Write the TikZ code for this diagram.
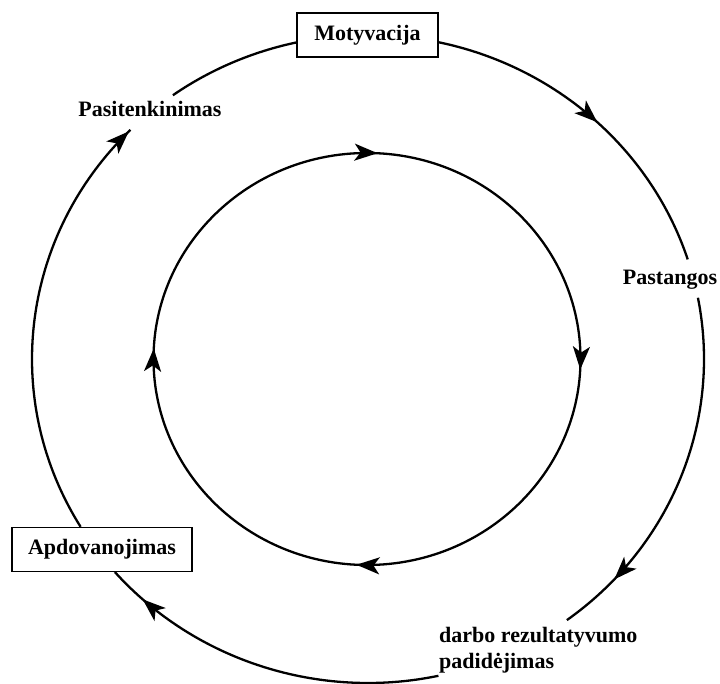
\documentclass[tikz,border=0pt]{standalone}
\usepackage{fontspec}
\setmainfont{Liberation Serif}
\usetikzlibrary{arrows.meta,decorations.markings}
\begin{document}
\begin{tikzpicture}[x=1pt,y=1pt,
  lab/.style={font=\fontsize{22}{26}\selectfont\bfseries, inner sep=0pt},
  boxed/.style={lab, draw, line width=1.9pt, minimum height=44pt, inner xsep=16pt, fill=white},
  flow/.style={line width=2.3pt},
  headtip/.tip={Stealth[length=23pt,width=17pt,inset=6pt]},
  tipat/.style={postaction={decorate}, decoration={markings,
    mark=at position #1 with {\arrow{headtip}}}}
]
\useasboundingbox (0,0) rectangle (720,683);

% centres of the two cycles
\coordinate (oc) at (368,324);
\coordinate (ic) at (367,324);

% stage labels
\node[boxed, minimum width=141pt] (mot) at (367.5,648) {Motyvacija};
\node[lab, anchor=base] (pst) at (670,398) {Pastangos};
\node[lab, anchor=base west] (rez1) at (439,41) {darbo rezultatyvumo};
\node[lab, anchor=base west] (rez2) at (439,15) {padidėjimas};
\node[boxed, minimum width=180pt] (apd) at (102,133.5) {Apdovanojimas};
\node[lab, anchor=base] (sat) at (150,566) {Pasitenkinimas};

% end points of the outer arcs, on the outer ellipse
\path (oc) ++(77.9:336 and 324)   coordinate (mot-r);
\path (oc) ++(17.9:336 and 324)   coordinate (pst-t);
\path (oc) ++(10.9:336 and 324)   coordinate (pst-b);
\path (oc) ++(-53.7:336 and 324)  coordinate (rez-r);
\path (oc) ++(-77.9:336 and 324)  coordinate (rez-l);
\path (oc) ++(-138.9:336 and 324) coordinate (apd-b);
\path (oc) ++(211.2:336 and 324)  coordinate (apd-t);
\path (oc) ++(135:336 and 324)    coordinate (sat-b);
\path (oc) ++(125.5:336 and 324)  coordinate (sat-t);
\path (oc) ++(102.2:336 and 324)  coordinate (mot-l);

% outer cycle, clockwise
\draw[flow, tipat=0.52] (mot-r) arc[start angle=77.9, end angle=17.9, x radius=336, y radius=324];
\draw[flow, tipat=0.83] (pst-b) arc[start angle=10.9, end angle=-53.7, x radius=336, y radius=324];
\draw[flow, tipat=0.89] (rez-l) arc[start angle=-77.9, end angle=-138.9, x radius=336, y radius=324];
\draw[flow, tipat=0.995] (apd-t) arc[start angle=211.2, end angle=135, x radius=336, y radius=324];
\draw[flow] (sat-t) arc[start angle=125.5, end angle=102.2, x radius=336, y radius=324];

% inner cycle, clockwise, four arrowheads
\path (ic) ++(90:213.5 and 206) coordinate (in-top);
\draw[flow, postaction={decorate}, decoration={markings,
    mark=between positions 0.008 and 1 step 0.25 with {\arrow{headtip}}}]
  (in-top) arc[start angle=90, end angle=-270, x radius=213.5, y radius=206];
\end{tikzpicture}
\end{document}
